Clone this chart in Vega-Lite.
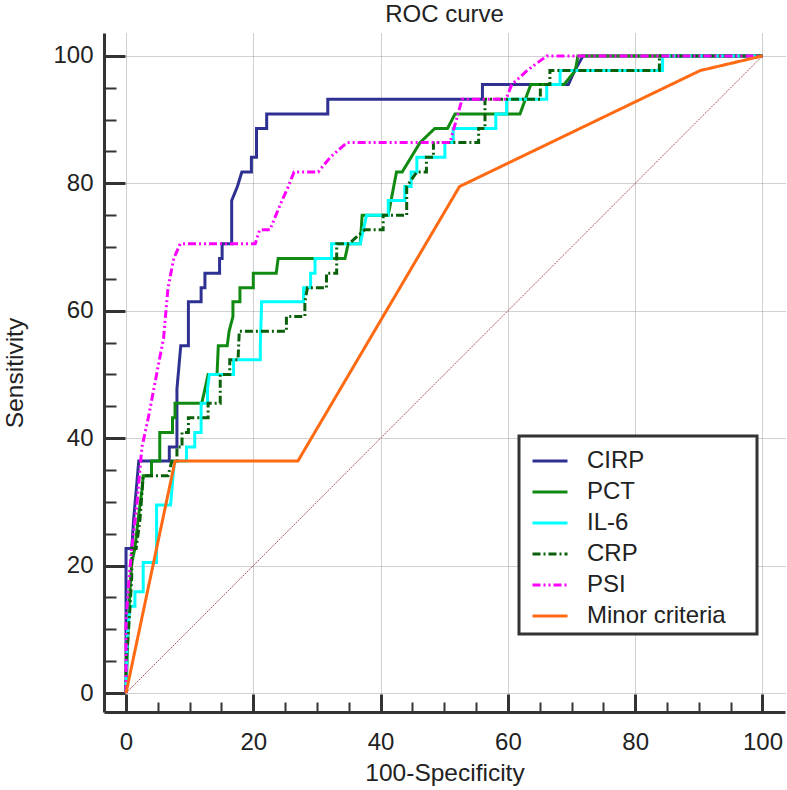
{
 "$schema": "https://vega.github.io/schema/vega-lite/v6.json",
 "width": 681, "height": 679,
 "autosize": {"type": "none"},
 "padding": {"left": 104, "top": 33, "right": 2, "bottom": 78},
 "background": "white",
 "config": {"font": "Liberation Sans", "view": {"stroke": null}, "legend": {"strokeWidth": 3}},
 "title": {"text": "ROC curve", "fontSize": 24, "fontWeight": "normal", "color": "#222", "offset": 6, "anchor": "middle"},
 "layer": [
  {
   "data": {"values": [{"x": 0, "y": 0}, {"x": 100, "y": 100}]},
   "mark": {"type": "line", "color": "#a85858", "strokeWidth": 1, "strokeDash": [2, 1]},
   "encoding": {
    "x": {"field": "x", "type": "quantitative", "scale": {"domain": [-3.46, 103.54], "nice": false, "zero": false},
     "axis": {"orient": "bottom", "values": [5,10,15,25,30,35,45,50,55,65,70,75,85,90,95], "labels": false, "domain": false, "grid": false, "tickSize": -10, "tickWidth": 2, "tickColor": "#333", "title": null}},
    "y": {"field": "y", "type": "quantitative", "scale": {"domain": [-2.98, 103.6], "nice": false, "zero": false},
     "axis": {"orient": "left", "values": [5,10,15,25,30,35,45,50,55,65,70,75,85,90,95], "labels": false, "domain": false, "grid": false, "tickSize": -12, "tickWidth": 2, "tickColor": "#333", "title": null}}
   }
  },
  {
   "data": {"values": [
    {"s":"CIRP","x":0,"y":0},{"s":"CIRP","x":0,"y":22.7},{"s":"CIRP","x":0.9,"y":22.7},{"s":"CIRP","x":1.2,"y":27.3},{"s":"CIRP","x":1.6,"y":31.8},{"s":"CIRP","x":2.0,"y":36.4},{"s":"CIRP","x":6.8,"y":36.4},{"s":"CIRP","x":6.8,"y":38.6},{"s":"CIRP","x":8.0,"y":38.6},{"s":"CIRP","x":8.0,"y":47.7},{"s":"CIRP","x":8.2,"y":50},{"s":"CIRP","x":8.6,"y":54.5},{"s":"CIRP","x":9.8,"y":54.5},{"s":"CIRP","x":9.8,"y":61.4},{"s":"CIRP","x":11.8,"y":61.4},{"s":"CIRP","x":11.8,"y":63.6},{"s":"CIRP","x":12.4,"y":63.6},{"s":"CIRP","x":12.4,"y":65.9},{"s":"CIRP","x":14.7,"y":65.9},{"s":"CIRP","x":14.7,"y":68.2},{"s":"CIRP","x":15.1,"y":68.2},{"s":"CIRP","x":15.1,"y":70.5},{"s":"CIRP","x":16.6,"y":70.5},{"s":"CIRP","x":16.6,"y":77.3},{"s":"CIRP","x":17.5,"y":79.5},{"s":"CIRP","x":18.2,"y":81.8},{"s":"CIRP","x":19.7,"y":81.8},{"s":"CIRP","x":19.7,"y":84.1},{"s":"CIRP","x":20.5,"y":84.1},{"s":"CIRP","x":20.5,"y":88.6},{"s":"CIRP","x":22.1,"y":88.6},{"s":"CIRP","x":22.1,"y":90.9},{"s":"CIRP","x":31.7,"y":90.9},{"s":"CIRP","x":31.7,"y":93.2},{"s":"CIRP","x":56.0,"y":93.2},{"s":"CIRP","x":56.0,"y":95.5},{"s":"CIRP","x":69.5,"y":95.5},{"s":"CIRP","x":70.5,"y":97.7},{"s":"CIRP","x":71.8,"y":100},{"s":"CIRP","x":100,"y":100},
    {"s":"PCT","x":0,"y":0},{"s":"PCT","x":0.3,"y":9.1},{"s":"PCT","x":0.6,"y":15.9},{"s":"PCT","x":0.9,"y":20.5},{"s":"PCT","x":1.4,"y":22.7},{"s":"PCT","x":1.9,"y":27.3},{"s":"PCT","x":2.5,"y":31.8},{"s":"PCT","x":2.7,"y":34.1},{"s":"PCT","x":4.0,"y":34.1},{"s":"PCT","x":4.0,"y":36.4},{"s":"PCT","x":5.3,"y":36.4},{"s":"PCT","x":5.3,"y":40.9},{"s":"PCT","x":7.3,"y":40.9},{"s":"PCT","x":7.3,"y":43.2},{"s":"PCT","x":7.7,"y":43.2},{"s":"PCT","x":7.7,"y":45.5},{"s":"PCT","x":11.9,"y":45.5},{"s":"PCT","x":12.4,"y":47.7},{"s":"PCT","x":12.9,"y":50},{"s":"PCT","x":14.3,"y":50},{"s":"PCT","x":14.5,"y":54.5},{"s":"PCT","x":15.9,"y":54.5},{"s":"PCT","x":16.2,"y":56.8},{"s":"PCT","x":16.8,"y":59.1},{"s":"PCT","x":16.8,"y":61.4},{"s":"PCT","x":17.9,"y":61.4},{"s":"PCT","x":17.9,"y":63.6},{"s":"PCT","x":20.0,"y":63.6},{"s":"PCT","x":20.0,"y":65.9},{"s":"PCT","x":23.6,"y":65.9},{"s":"PCT","x":23.9,"y":68.2},{"s":"PCT","x":34.4,"y":68.2},{"s":"PCT","x":34.9,"y":70.5},{"s":"PCT","x":36.8,"y":70.5},{"s":"PCT","x":37.1,"y":75},{"s":"PCT","x":41.2,"y":75},{"s":"PCT","x":42.5,"y":81.8},{"s":"PCT","x":43.4,"y":81.8},{"s":"PCT","x":46.2,"y":86.4},{"s":"PCT","x":48.5,"y":88.6},{"s":"PCT","x":50.5,"y":88.6},{"s":"PCT","x":51.7,"y":90.9},{"s":"PCT","x":61.9,"y":90.9},{"s":"PCT","x":63.6,"y":95.5},{"s":"PCT","x":68.8,"y":95.5},{"s":"PCT","x":70.6,"y":97.7},{"s":"PCT","x":71.0,"y":100},{"s":"PCT","x":100,"y":100},
    {"s":"IL-6","x":0,"y":0},{"s":"IL-6","x":0.2,"y":9.1},{"s":"IL-6","x":0.6,"y":13.6},{"s":"IL-6","x":1.4,"y":13.6},{"s":"IL-6","x":1.4,"y":15.9},{"s":"IL-6","x":2.7,"y":15.9},{"s":"IL-6","x":2.7,"y":20.5},{"s":"IL-6","x":4.8,"y":20.5},{"s":"IL-6","x":4.8,"y":29.5},{"s":"IL-6","x":7.0,"y":29.5},{"s":"IL-6","x":7.6,"y":36.4},{"s":"IL-6","x":9.5,"y":36.4},{"s":"IL-6","x":9.5,"y":38.6},{"s":"IL-6","x":10.8,"y":38.6},{"s":"IL-6","x":10.8,"y":40.9},{"s":"IL-6","x":11.8,"y":40.9},{"s":"IL-6","x":11.8,"y":45.5},{"s":"IL-6","x":12.8,"y":45.5},{"s":"IL-6","x":12.8,"y":47.7},{"s":"IL-6","x":13.1,"y":50},{"s":"IL-6","x":16.9,"y":50},{"s":"IL-6","x":16.9,"y":52.3},{"s":"IL-6","x":21.1,"y":52.3},{"s":"IL-6","x":21.1,"y":54.5},{"s":"IL-6","x":21.3,"y":61.4},{"s":"IL-6","x":27.9,"y":61.4},{"s":"IL-6","x":27.9,"y":63.6},{"s":"IL-6","x":29.0,"y":63.6},{"s":"IL-6","x":29.0,"y":65.9},{"s":"IL-6","x":29.7,"y":65.9},{"s":"IL-6","x":29.7,"y":68.2},{"s":"IL-6","x":32.3,"y":68.2},{"s":"IL-6","x":32.3,"y":70.5},{"s":"IL-6","x":36.8,"y":70.5},{"s":"IL-6","x":37.8,"y":75},{"s":"IL-6","x":41.2,"y":75},{"s":"IL-6","x":41.2,"y":77.3},{"s":"IL-6","x":43.8,"y":77.3},{"s":"IL-6","x":43.8,"y":79.5},{"s":"IL-6","x":44.8,"y":79.5},{"s":"IL-6","x":44.8,"y":81.8},{"s":"IL-6","x":45.7,"y":81.8},{"s":"IL-6","x":45.7,"y":84.1},{"s":"IL-6","x":50.1,"y":84.1},{"s":"IL-6","x":50.1,"y":86.4},{"s":"IL-6","x":51.4,"y":86.4},{"s":"IL-6","x":51.4,"y":88.6},{"s":"IL-6","x":58.1,"y":88.6},{"s":"IL-6","x":58.1,"y":90.9},{"s":"IL-6","x":59.8,"y":90.9},{"s":"IL-6","x":59.8,"y":93.2},{"s":"IL-6","x":66.1,"y":93.2},{"s":"IL-6","x":66.1,"y":95.5},{"s":"IL-6","x":68.2,"y":95.5},{"s":"IL-6","x":68.2,"y":97.7},{"s":"IL-6","x":84.3,"y":97.7},{"s":"IL-6","x":84.3,"y":100},{"s":"IL-6","x":100,"y":100},
    {"s":"CRP","x":0,"y":0},{"s":"CRP","x":0,"y":4.5},{"s":"CRP","x":0.5,"y":11.4},{"s":"CRP","x":0.9,"y":18.2},{"s":"CRP","x":0.9,"y":22.7},{"s":"CRP","x":1.6,"y":22.7},{"s":"CRP","x":2.2,"y":27.3},{"s":"CRP","x":2.7,"y":34.1},{"s":"CRP","x":6.6,"y":34.1},{"s":"CRP","x":7.2,"y":36.4},{"s":"CRP","x":8.0,"y":36.4},{"s":"CRP","x":8.0,"y":38.6},{"s":"CRP","x":8.8,"y":38.6},{"s":"CRP","x":8.8,"y":40.9},{"s":"CRP","x":9.8,"y":40.9},{"s":"CRP","x":9.8,"y":43.2},{"s":"CRP","x":12.9,"y":43.2},{"s":"CRP","x":12.9,"y":45.5},{"s":"CRP","x":14.8,"y":45.5},{"s":"CRP","x":14.8,"y":50},{"s":"CRP","x":16.3,"y":50},{"s":"CRP","x":16.3,"y":52.3},{"s":"CRP","x":17.6,"y":52.3},{"s":"CRP","x":17.8,"y":56.8},{"s":"CRP","x":25.2,"y":56.8},{"s":"CRP","x":25.2,"y":59.1},{"s":"CRP","x":28.1,"y":59.1},{"s":"CRP","x":28.1,"y":61.4},{"s":"CRP","x":28.5,"y":63.6},{"s":"CRP","x":31.5,"y":63.6},{"s":"CRP","x":31.5,"y":65.9},{"s":"CRP","x":33.1,"y":65.9},{"s":"CRP","x":33.1,"y":70.5},{"s":"CRP","x":35.0,"y":70.5},{"s":"CRP","x":37.5,"y":72.7},{"s":"CRP","x":40.4,"y":72.7},{"s":"CRP","x":40.4,"y":75},{"s":"CRP","x":44.1,"y":75},{"s":"CRP","x":44.1,"y":79.5},{"s":"CRP","x":45.7,"y":81.8},{"s":"CRP","x":47.2,"y":81.8},{"s":"CRP","x":47.2,"y":84.1},{"s":"CRP","x":48.3,"y":84.1},{"s":"CRP","x":48.3,"y":86.4},{"s":"CRP","x":55.4,"y":86.4},{"s":"CRP","x":55.4,"y":88.6},{"s":"CRP","x":56.4,"y":88.6},{"s":"CRP","x":56.4,"y":93.2},{"s":"CRP","x":65.1,"y":93.2},{"s":"CRP","x":65.1,"y":95.5},{"s":"CRP","x":66.6,"y":95.5},{"s":"CRP","x":66.6,"y":97.7},{"s":"CRP","x":83.8,"y":97.7},{"s":"CRP","x":83.8,"y":100},{"s":"CRP","x":100,"y":100},
    {"s":"PSI","x":0,"y":0},{"s":"PSI","x":0,"y":11.4},{"s":"PSI","x":0.5,"y":18.2},{"s":"PSI","x":0.9,"y":22.7},{"s":"PSI","x":1.7,"y":29.5},{"s":"PSI","x":2.5,"y":38.6},{"s":"PSI","x":3.5,"y":43.2},{"s":"PSI","x":4.8,"y":50},{"s":"PSI","x":5.9,"y":55.7},{"s":"PSI","x":6.4,"y":61.4},{"s":"PSI","x":6.6,"y":63.6},{"s":"PSI","x":7.5,"y":68.2},{"s":"PSI","x":8.5,"y":70.5},{"s":"PSI","x":20.3,"y":70.5},{"s":"PSI","x":21.0,"y":72.7},{"s":"PSI","x":22.6,"y":72.7},{"s":"PSI","x":24.5,"y":77.3},{"s":"PSI","x":25.5,"y":79.5},{"s":"PSI","x":26.4,"y":81.8},{"s":"PSI","x":30.2,"y":81.8},{"s":"PSI","x":32.1,"y":84.1},{"s":"PSI","x":34.7,"y":86.4},{"s":"PSI","x":50.9,"y":86.4},{"s":"PSI","x":52.8,"y":93.2},{"s":"PSI","x":59.7,"y":93.2},{"s":"PSI","x":60.6,"y":95.5},{"s":"PSI","x":63.0,"y":97.7},{"s":"PSI","x":66.1,"y":100},{"s":"PSI","x":100,"y":100},
    {"s":"Minor criteria","x":0,"y":0},{"s":"Minor criteria","x":7.7,"y":36.4},{"s":"Minor criteria","x":27.0,"y":36.4},{"s":"Minor criteria","x":52.4,"y":79.5},{"s":"Minor criteria","x":90.2,"y":97.7},{"s":"Minor criteria","x":100,"y":100}
   ]},
   "mark": {"type": "line", "strokeWidth": 3},
   "encoding": {
    "x": {"field": "x", "type": "quantitative", "scale": {"domain": [-3.46, 103.54], "nice": false, "zero": false},
     "axis": {"orient": "bottom", "values": [0,20,40,60,80,100], "grid": true, "gridColor": "#a0a0a0", "gridDash": [1,1], "gridWidth": 1, "domainColor": "#333", "domainWidth": 3, "tickColor": "#333", "tickWidth": 3, "tickSize": -18, "labelFontSize": 24, "labelColor": "#222", "labelPadding": 36, "labelFlush": false, "labelOverlap": false, "title": "100-Specificity", "titleFontSize": 24.5, "titleFontWeight": "normal", "titleColor": "#222", "titleY": 61, "titleBaseline": "middle"}},
    "y": {"field": "y", "type": "quantitative", "scale": {"domain": [-2.98, 103.6], "nice": false, "zero": false},
     "axis": {"orient": "left", "values": [0,20,40,60,80,100], "grid": true, "gridColor": "#a0a0a0", "gridDash": [1,1], "gridWidth": 1, "domainColor": "#333", "domainWidth": 3, "tickColor": "#333", "tickWidth": 3, "tickSize": -21, "labelFontSize": 24, "labelColor": "#222", "labelPadding": 32, "labelFlush": false, "labelOverlap": false, "title": "Sensitivity", "titleFontSize": 24.5, "titleFontWeight": "normal", "titleColor": "#222", "titleX": -89, "titleY": 339.5, "titleBaseline": "middle", "titleAlign": "center"}},
    "color": {"field": "s", "type": "nominal", "sort": null,
     "scale": {"domain": ["CIRP","PCT","IL-6","CRP","PSI","Minor criteria"], "range": ["#2e3192","#118a11","#00ffff","#0a600a","#ff00ff","#ff6a13"]},
     "legend": {"orient": "none", "legendX": 415, "legendY": 403, "title": null, "strokeColor": "#333", "fillColor": "white", "padding": 6, "symbolOffset": 6, "symbolType": "stroke", "symbolSize": 1225, "symbolStrokeWidth": 3, "labelFontSize": 24, "labelColor": "#222", "labelOffset": 18, "labelLimit": 400, "rowPadding": 0, "labelExpr": "datum.label + '\u00a0\u2800'"}},
    "strokeDash": {"field": "s", "type": "nominal", "sort": null,
     "scale": {"domain": ["CIRP","PCT","IL-6","CRP","PSI","Minor criteria"], "range": [[1,0],[1,0],[1,0],[8,3,2,3],[8,3,2,3,2,3],[1,0]]},
     "legend": {"orient": "none", "legendX": 415, "legendY": 403, "title": null, "strokeColor": "#333", "fillColor": "white", "padding": 6, "symbolOffset": 6, "symbolType": "stroke", "symbolSize": 1225, "symbolStrokeWidth": 3, "labelFontSize": 24, "labelColor": "#222", "labelOffset": 18, "labelLimit": 400, "rowPadding": 0, "labelExpr": "datum.label + '\u00a0\u2800'"}}
   }
  }
 ],
 "resolve": {"axis": {"x": "independent", "y": "independent"}}
}
